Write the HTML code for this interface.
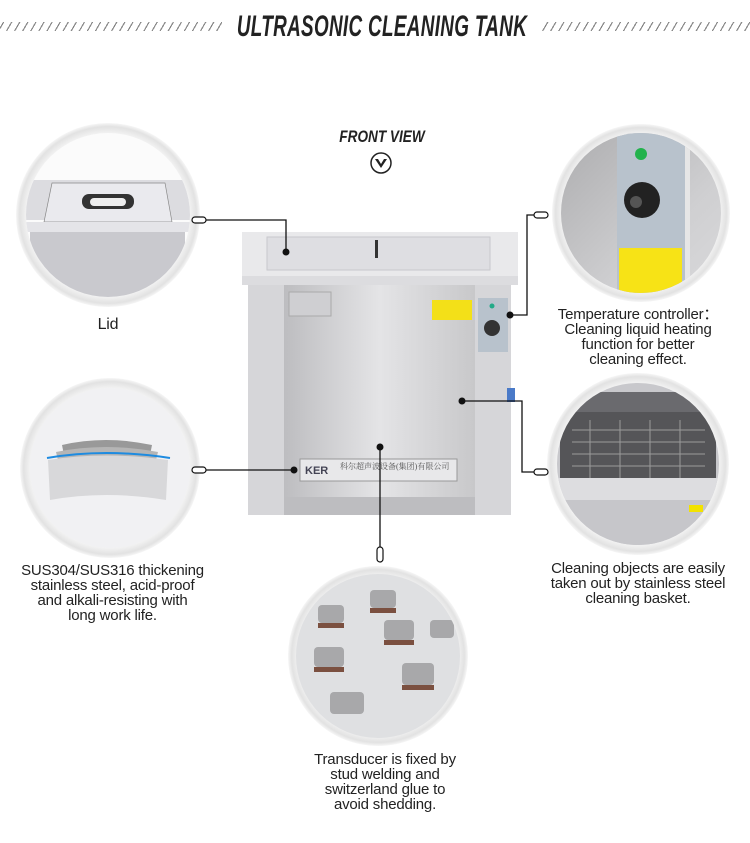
<!DOCTYPE html>
<html><head><meta charset="utf-8"><style>
html,body{margin:0;padding:0;background:#fff;}
body{width:750px;height:843px;position:relative;overflow:hidden;font-family:"Liberation Sans",sans-serif;}
.t{position:absolute;text-align:center;color:#222;font-size:15px;line-height:15px;letter-spacing:-0.2px;}
.title{position:absolute;left:132px;width:500px;top:10px;text-align:center;font-weight:bold;font-style:italic;font-size:30px;color:#222;transform:scaleX(0.63);transform-origin:center;letter-spacing:0.5px;white-space:nowrap;}
.hatch{position:absolute;top:22px;height:9px;background:repeating-linear-gradient(-60deg,transparent 0 4px,#888 4px 5.2px,transparent 5.2px 7px);}
</style></head><body>
<div class="hatch" style="left:0;width:222px"></div>
<div class="hatch" style="left:541px;width:209px"></div>
<div class="title">ULTRASONIC CLEANING TANK</div>
<div style="position:absolute;left:320px;width:124px;top:127px;text-align:center;font-weight:bold;font-style:italic;font-size:17px;color:#222;transform:scaleX(0.8)">FRONT VIEW</div>
<svg width="750" height="843" style="position:absolute;left:0;top:0">
<defs>
<radialGradient id="ring" cx="50%" cy="50%" r="50%"><stop offset="88%" stop-color="#f4f4f4"/><stop offset="96%" stop-color="#e2e2e2"/><stop offset="100%" stop-color="#f6f6f6"/></radialGradient>
<linearGradient id="steel" x1="0" y1="0" x2="1" y2="0"><stop offset="0" stop-color="#bdbdc0"/><stop offset="0.5" stop-color="#e4e4e6"/><stop offset="1" stop-color="#c8c8ca"/></linearGradient>
<linearGradient id="steel2" x1="0" y1="0" x2="1" y2="1"><stop offset="0" stop-color="#a9a9ab"/><stop offset="0.6" stop-color="#cfcfd1"/><stop offset="1" stop-color="#dcdcde"/></linearGradient>
<clipPath id="c1"><circle cx="108" cy="215" r="82"/></clipPath>
<clipPath id="c2"><circle cx="641" cy="213" r="80"/></clipPath>
<clipPath id="c3"><circle cx="110" cy="468" r="80"/></clipPath>
<clipPath id="c4"><circle cx="638" cy="464" r="81"/></clipPath>
<clipPath id="c5"><circle cx="378" cy="656" r="82"/></clipPath>
</defs>
<circle cx="381" cy="163" r="10" fill="none" stroke="#222" stroke-width="1.5"/>
<path d="M375 159 L381 168 L387 159 L384 159 L381 164 L378 159Z" fill="#222"/>

<circle cx="108" cy="215" r="92" fill="url(#ring)"/>
<g clip-path="url(#c1)"><rect x="0" y="120" width="220" height="200" fill="#fbfbfb"/>
<rect x="20" y="180" width="180" height="40" fill="#dcdce0"/>
<polygon points="52,183 165,183 172,222 44,222" fill="#eaeaee" stroke="#888" stroke-width="0.7"/>
<rect x="82" y="194" width="52" height="15" rx="7" fill="#333"/><rect x="90" y="198" width="36" height="8" rx="4" fill="#eee"/>
<rect x="20" y="222" width="180" height="10" fill="#e4e4e8"/>
<rect x="30" y="232" width="155" height="80" fill="#c9c9ce"/></g>

<circle cx="641" cy="213" r="89" fill="url(#ring)"/>
<g clip-path="url(#c2)"><rect x="550" y="120" width="190" height="190" fill="url(#steel2)"/>
<rect x="617" y="133" width="68" height="175" fill="#b8c2cc"/>
<rect x="685" y="133" width="5" height="175" fill="#e6e6e6"/>
<circle cx="641" cy="154" r="6" fill="#22b24c"/>
<circle cx="642" cy="200" r="18" fill="#222"/><circle cx="636" cy="202" r="6" fill="#555"/>
<rect x="619" y="248" width="63" height="45" fill="#f7e316"/></g>

<circle cx="110" cy="468" r="90" fill="url(#ring)"/>
<g clip-path="url(#c3)"><rect x="20" y="380" width="190" height="180" fill="#f1f1f3"/>
<path d="M62 445 Q105 435 152 445 L150 455 Q105 446 64 455Z" fill="#999"/>
<path d="M56 452 Q105 442 158 452 L156 460 Q105 452 58 460Z" fill="#b5b5b5"/>
<path d="M47 458 Q105 448 170 458" stroke="#1e8be0" stroke-width="2" fill="none"/>
<path d="M48 460 Q105 451 168 460 L166 500 Q105 490 50 500Z" fill="#d8d8da"/></g>

<circle cx="638" cy="464" r="91" fill="url(#ring)"/>
<g clip-path="url(#c4)"><rect x="540" y="370" width="200" height="190" fill="#c8c8cc"/>
<rect x="562" y="392" width="152" height="20" fill="#6a6a6e"/>
<rect x="560" y="412" width="156" height="68" fill="#555558"/>
<g stroke="#9a9a9a" stroke-width="1">
<path d="M572 430H705M572 442H705M572 454H705M572 466H705M590 420V478M620 420V478M650 420V478M680 420V478"/></g>
<rect x="540" y="478" width="200" height="22" fill="#dddde0"/>
<rect x="540" y="500" width="200" height="60" fill="#c6c6ca"/>
<rect x="689" y="505" width="14" height="7" fill="#f2e200"/></g>

<circle cx="378" cy="656" r="90" fill="url(#ring)"/>
<g clip-path="url(#c5)"><rect x="280" y="560" width="200" height="190" fill="#dfe0e2"/>
<g fill="#a8a8aa"><rect x="318" y="605" width="26" height="18" rx="4"/><rect x="370" y="590" width="26" height="18" rx="4"/><rect x="384" y="620" width="30" height="20" rx="4"/><rect x="314" y="647" width="30" height="20" rx="4"/><rect x="402" y="663" width="32" height="22" rx="4"/><rect x="330" y="692" width="34" height="22" rx="4"/><rect x="430" y="620" width="24" height="18" rx="4"/></g>
<g fill="#7b5040"><rect x="318" y="623" width="26" height="5"/><rect x="370" y="608" width="26" height="5"/><rect x="384" y="640" width="30" height="5"/><rect x="314" y="667" width="30" height="5"/><rect x="402" y="685" width="32" height="5"/></g></g>

<rect x="248" y="285" width="263" height="230" fill="#d6d6d9"/>
<rect x="284" y="285" width="191" height="212" fill="url(#steel)"/>
<rect x="284" y="497" width="191" height="18" fill="#bdbdc0"/>
<rect x="242" y="232" width="276" height="53" fill="#e9e9eb"/>
<rect x="242" y="276" width="276" height="9" fill="#dcdcdf"/>
<rect x="267" y="237" width="223" height="33" fill="#dedee2" stroke="#c8c8cc"/>
<rect x="375" y="240" width="3" height="18" fill="#333"/>
<rect x="289" y="292" width="42" height="24" fill="#cfcfd2" stroke="#aaa"/>
<rect x="432" y="300" width="40" height="20" fill="#f3e018"/>
<rect x="478" y="298" width="30" height="54" fill="#b8c2cc"/>
<circle cx="492" cy="328" r="8" fill="#333"/><circle cx="492" cy="306" r="2.5" fill="#2a8"/>
<rect x="507" y="388" width="8" height="14" fill="#4a7ac8"/>
<rect x="300" y="459" width="157" height="22" fill="#e8e8ea" stroke="#999"/>
<text x="305" y="474" font-family="Liberation Sans" font-size="11" font-weight="bold" fill="#445">KER</text>
<text x="340" y="469" font-family="Liberation Serif,Noto Serif CJK SC,serif" font-size="8" fill="#555">科尔超声波设备(集团)有限公司</text>

<g stroke="#111" stroke-width="1.3" fill="none">
<path d="M206 220H286V252"/>
<path d="M510 315H527V215H534"/>
<path d="M462 401H522V472H534"/>
<path d="M206 470H294"/>
<path d="M380 447V547"/>
</g>
<g fill="#111"><circle cx="286" cy="252" r="3.5"/><circle cx="510" cy="315" r="3.5"/><circle cx="462" cy="401" r="3.5"/><circle cx="294" cy="470" r="3.5"/><circle cx="380" cy="447" r="3.5"/></g>
<g fill="#fff" stroke="#111" stroke-width="1.2">
<rect x="192" y="217" width="14" height="6" rx="3"/>
<rect x="534" y="212" width="14" height="6" rx="3"/>
<rect x="534" y="469" width="14" height="6" rx="3"/>
<rect x="192" y="467" width="14" height="6" rx="3"/>
<rect x="377" y="547" width="6" height="15" rx="3"/>
</g>
</svg>
<div class="t" style="left:58px;width:100px;top:317px;font-size:16px">Lid</div>
<div class="t" style="left:538px;width:200px;top:307px">Temperature controller：<br>Cleaning liquid heating<br>function for better<br>cleaning effect.</div>
<div class="t" style="left:5px;width:215px;top:563px">SUS304/SUS316 thickening<br>stainless steel, acid-proof<br>and alkali-resisting with<br>long work life.</div>
<div class="t" style="left:533px;width:210px;top:561px">Cleaning objects are easily<br>taken out by stainless steel<br>cleaning basket.</div>
<div class="t" style="left:280px;width:210px;top:752px">Transducer is fixed by<br>stud welding and<br>switzerland glue to<br>avoid shedding.</div>
</body></html>
